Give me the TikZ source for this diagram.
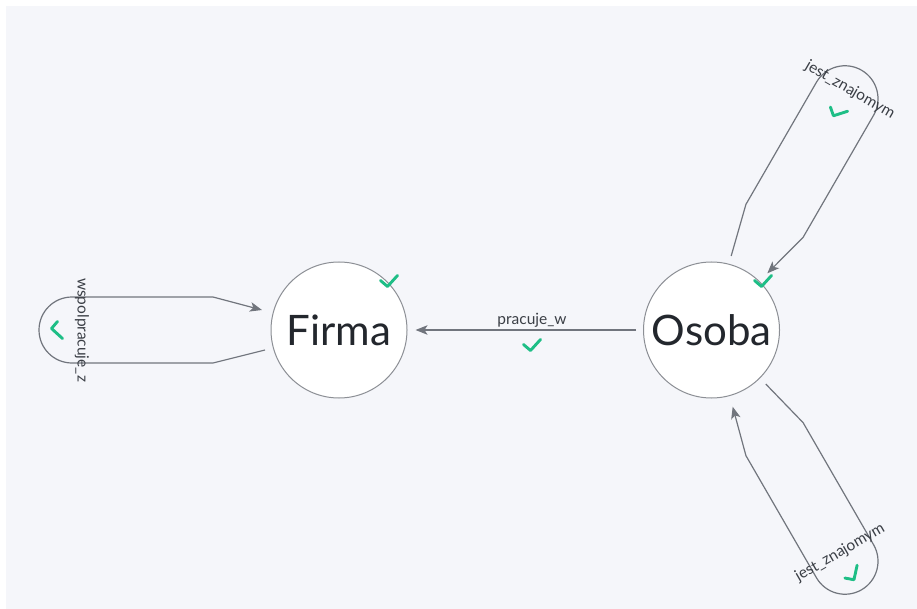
\documentclass[tikz,border=0pt]{standalone}
\usepackage{fontspec}
\setmainfont{Lato}
\usetikzlibrary{arrows.meta,calc}

\definecolor{panel}{HTML}{F5F6FA}
\definecolor{edgegray}{HTML}{71757D}
\definecolor{ringgray}{HTML}{8C8F95}
\definecolor{okgreen}{HTML}{1EBE86}
\definecolor{inktext}{HTML}{23272D}
\definecolor{labeltext}{HTML}{3B3F46}

\tikzset{
  entity/.style={circle, draw=ringgray, line width=1pt, fill=white,
    minimum size=136pt, inner sep=0pt,
    font=\fontsize{42}{48}\selectfont, text=inktext},
  rel/.style={draw=edgegray, line width=1.2pt, line join=round,
    -{Stealth[length=12pt,width=9.5pt,inset=3pt]}},
  rellabel/.style={font=\fontsize{15.5}{18}\selectfont, text=labeltext, inner sep=0pt},
  tick/.pic={\draw[okgreen, line width=2.9pt, line cap=round, line join=round]
    (-8.5,0.5) -- (-1.5,-5.5) -- (8.5,5.5);}
}

% hairpin self-loop: #1 node, #2 direction of the loop axis
\newcommand{\hairpin}[2]{%
  \draw[rel]
    ($(#1)+({#2}:74)+({#2+90}:20)$) --
    ($(#1)+({#2}:126)+({#2+90}:33)$) --
    ($(#1)+({#2}:267)+({#2+90}:33)$)
    arc[start angle={#2+90}, end angle={#2-90}, radius=33pt] --
    ($(#1)+({#2}:126)+({#2-90}:33)$) --
    ($(#1)+({#2}:77)+({#2-90}:20)$);
}

\begin{document}
\begin{tikzpicture}[x=1pt,y=1pt]
  \useasboundingbox (0,0) rectangle (917,-609);
  \fill[white] (0,0) rectangle (917,-609);
  \fill[panel] (6,-6) rectangle (917,-609);

  % entities
  \node[entity] (firma) at (339,-330) {Firma};
  \node[entity] (osoba) at (711.5,-330) {Osoba};
  \pic at (389,-281) {tick};
  \pic at (763,-281) {tick};

  % Osoba -> Firma
  \draw[rel] ($(osoba.west)+(-7,0)$) -- ($(firma.east)+(8,0)$);
  \node[rellabel] (lblpracuje) at (532,-320) {pracuje\_w};
  \pic at (532,-345) {tick};

  % Firma self-loop
  \hairpin{firma}{180}
  \node[rellabel, rotate=-90] (lblwspol) at ($(firma)+(180:257)$) {wspolpracuje\_z};
  \pic[rotate=-90] at ($(firma)+(180:282)$) {tick};

  % Osoba self-loops
  \hairpin{osoba}{60}
  \node[rellabel, rotate=-30] (lblzn1) at ($(osoba)+(60:277)$) {jest\_znajomym};
  \pic[rotate=-30] at ($(osoba)+(60:252)$) {tick};

  \hairpin{osoba}{-60}
  \node[rellabel, rotate=30] (lblzn2) at ($(osoba)+(-60:257)$) {jest\_znajomym};
  \pic[rotate=30] at ($(osoba)+(-60:282)$) {tick};
\end{tikzpicture}
\end{document}
